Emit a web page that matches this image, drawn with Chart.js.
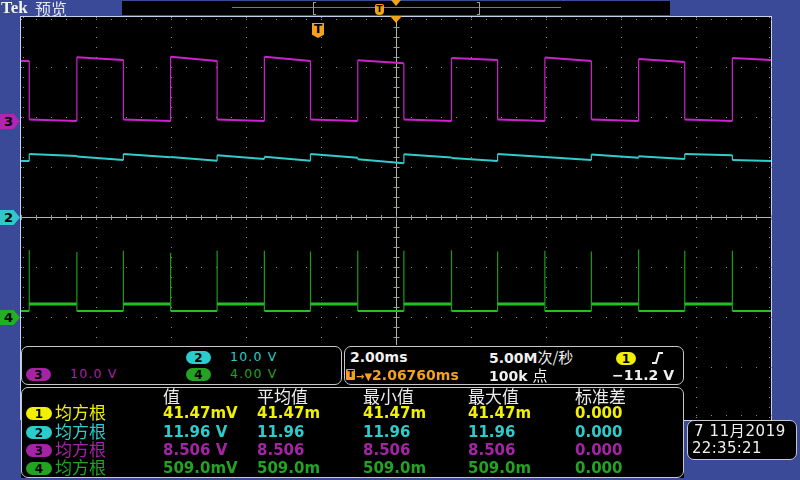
<!DOCTYPE html>
<html><head><meta charset="utf-8">
<script src="https://cdn.jsdelivr.net/npm/chart.js@4.4.0/dist/chart.umd.min.js"></script>
<style>
html,body{margin:0;padding:0;background:#3b4a98;width:800px;height:480px;overflow:hidden;}
#wrap{position:relative;width:800px;height:480px;}
canvas{position:absolute;left:0;top:0;}
.a{position:absolute;white-space:nowrap;height:18px;line-height:18px;}
.num{font-family:"DejaVu Sans",sans-serif;font-weight:bold;font-size:15px;}
.sm{font-family:"DejaVu Sans",sans-serif;font-size:12.5px;letter-spacing:1.2px;}
.cjk{font-family:"Noto Sans CJK SC",sans-serif;font-size:17px;}
.panel{position:absolute;background:#000;border:1px solid #c8c8c8;border-radius:7px;box-sizing:border-box;}
.badge{position:absolute;height:13px;line-height:13px;border-radius:7px;color:#000;font:bold 12px "DejaVu Sans",sans-serif;text-align:center;}
.mk{position:absolute;left:0;width:20px;height:15px;line-height:15px;color:#000;font:bold 13px "DejaVu Sans",sans-serif;text-indent:4px;clip-path:polygon(0 0,68% 0,100% 50%,68% 100%,0 100%);}
.tek{font-family:"Liberation Serif",serif;font-weight:bold;font-size:17px;color:#f2f2f2;}
.cn{font-family:"Noto Sans CJK SC",sans-serif;}
.dv{font-family:"DejaVu Sans",sans-serif;}
</style>
</head><body><div id="wrap">
<canvas id="c" width="800" height="480"></canvas>
<div id="ov"></div>
</div>
<script>
const timeRangeMs = [-10, 10];                       // 2.00 ms/div, 10 divisions
const divRange = [-4, 4];                            // 8 vertical divisions
const edgeTimesMs = [-9.78,-8.51,-7.27,-6.01,-4.77,-3.51,-2.28,-1.02,0.21,1.48,2.71,3.97,5.21,6.47,7.70,8.97];
// channel 3 (magenta, 10 V/div): start / end voltage of each segment between edges
const ch3StartV = [11.9,0.2,12.64,0.2,12.76,0.2,12.76,0.2,12.04,0.2,12.5,0.2,12.6,0.2,12.3,0.2,12.5];
const ch3EndV   = [11.9,-0.1,12.1,-0.1,11.9,-0.1,11.9,-0.1,11.44,-0.1,12.1,-0.1,11.9,-0.1,11.7,-0.1,12.1];
// channel 2 (cyan, 10 V/div)
const ch2StartV = [11.2,12.6,12.1,12.6,12.0,12.34,12.06,12.6,11.54,12.54,11.8,12.6,12.0,12.5,12.14,12.6,11.4];
const ch2EndV   = [11.2,12.2,11.4,11.94,11.26,11.6,11.26,11.86,10.74,11.9,11.2,12.0,11.4,11.86,11.6,12.34,11.2];
// channel 4 (green, 4 V/div): level of each segment and spike peak at each edge
const ch4LevelV = [0.48,1.04,0.48,1.04,0.48,1.04,0.48,1.04,0.48,1.04,0.48,1.04,0.48,1.04,0.48,1.04,0.48];
const ch4SpikeV = [5.36,5.2,5.3,5.15,5.3,5.3,5.25,5.3,5.3,5.35,5.25,5.3,5.25,5.4,5.3,5.3];
// channel settings
const chVoltsPerDiv = {ch2:10, ch3:10, ch4:4};
const chPositionDiv = {ch2:0, ch3:1.93, ch4:-2};
const triggerMs = -2.0676;
// readouts
const measHeaders = ['值','平均值','最小值','最大值','标准差'];
const measChannels = ['1','2','3','4'];
const measName = '均方根';
const measValues = [
  ['41.47mV','41.47m','41.47m','41.47m','0.000'],
  ['11.96 V','11.96','11.96','11.96','0.000'],
  ['8.506 V','8.506','8.506','8.506','0.000'],
  ['509.0mV','509.0m','509.0m','509.0m','0.000']
];
const chColors = {'1':'#f0f000','2':'#2ccccc','3':'#a524a5','4':'#22a422'};
const traceColors = {ch2:'#33cccc', ch3:'#cc22cc', ch4:'#22c022'};

// ---------- build traces ----------
const bounds = [timeRangeMs[0], ...edgeTimesMs, timeRangeMs[1]];
const toDiv = (ch, v) => v / chVoltsPerDiv[ch] + chPositionDiv[ch];
function segTrace(ch, st, en){
  const pts = [];
  for (let i = 0; i < st.length; i++){
    pts.push({x:bounds[i], y:toDiv(ch, st[i])});
    pts.push({x:bounds[i+1], y:toDiv(ch, en[i])});
  }
  return pts;
}
function spikeTrace(ch, lv, sp){
  const pts = [];
  for (let i = 0; i < lv.length; i++){
    pts.push({x:bounds[i], y:toDiv(ch, lv[i])});
    pts.push({x:bounds[i+1], y:toDiv(ch, lv[i])});
    if (i < sp.length) pts.push({x:bounds[i+1], y:toDiv(ch, sp[i])});
  }
  return pts;
}
const ch3Data = segTrace('ch3', ch3StartV, ch3EndV);
const ch2Data = segTrace('ch2', ch2StartV, ch2EndV);
const ch4Data = spikeTrace('ch4', ch4LevelV, ch4SpikeV);
const hiDiv = toDiv('ch4', 0.8);

const tekPlugin = {
  id:'tek',
  beforeDraw(chart){
    const {ctx, chartArea:a, scales:{x, y}} = chart;
    const bottom = y.getPixelForValue(divRange[0]) + 3;
    ctx.save();
    ctx.fillStyle = '#000';
    ctx.fillRect(a.left, a.top - 1, a.right - a.left + 1, bottom - a.top + 1);
    ctx.strokeStyle = '#c4d0f4'; ctx.lineWidth = 1;
    ctx.beginPath();
    ctx.moveTo(a.left - 0.5, a.top - 0.5); ctx.lineTo(a.right + 0.5, a.top - 0.5);
    ctx.moveTo(a.left - 0.5, a.top - 1); ctx.lineTo(a.left - 0.5, bottom);
    ctx.moveTo(a.right + 0.5, a.top - 1); ctx.lineTo(a.right + 0.5, bottom);
    ctx.moveTo(a.right + 1, bottom + 0.5); ctx.lineTo(683, bottom + 0.5);
    ctx.stroke();
    ctx.restore();
  },
  beforeDatasetsDraw(chart){
    const {ctx, chartArea:a, scales:{x, y}} = chart;
    ctx.save();
    ctx.fillStyle = '#8e8e8e';
    const dot = (px, py) => ctx.fillRect(Math.round(px), Math.round(py), 1, 1);
    for (let t = timeRangeMs[0] + 2; t < timeRangeMs[1]; t += 2){
      if (Math.abs(t) < 1e-6) continue;
      const px = x.getPixelForValue(t);
      for (let d = divRange[0]; d <= divRange[1] + 1e-6; d += 0.2) dot(px, y.getPixelForValue(d));
    }
    for (let d = divRange[0] + 1; d < divRange[1]; d += 1){
      if (d === 0) continue;
      const py = y.getPixelForValue(d);
      for (let t = timeRangeMs[0]; t <= timeRangeMs[1] + 1e-6; t += 0.4) dot(x.getPixelForValue(t), py);
    }
    for (let d = divRange[0]; d <= divRange[1] + 1e-6; d += 0.2){
      const py = y.getPixelForValue(d);
      dot(a.left + 2, py); dot(a.right - 2, py);
    }
    for (let t = timeRangeMs[0]; t <= timeRangeMs[1] + 1e-6; t += 0.4){
      const px = x.getPixelForValue(t);
      dot(px, a.top + 2); dot(px, a.bottom - 2);
    }
    const cx = Math.round(x.getPixelForValue(0)) + 0.5, cy = Math.round(y.getPixelForValue(0)) + 0.5;
    ctx.strokeStyle = '#b4b4aa'; ctx.lineWidth = 1;
    ctx.beginPath();
    ctx.moveTo(a.left, cy); ctx.lineTo(a.right, cy);
    ctx.moveTo(cx, a.top - 1); ctx.lineTo(cx, a.bottom + 3);
    ctx.stroke();
    ctx.strokeStyle = '#9a9a94';
    ctx.beginPath();
    for (let t = timeRangeMs[0]; t <= timeRangeMs[1] + 1e-6; t += 0.4){
      const px = Math.round(x.getPixelForValue(t)) + 0.5;
      ctx.moveTo(px, cy - 2.5); ctx.lineTo(px, cy + 2.5);
    }
    for (let d = divRange[0]; d <= divRange[1] + 1e-6; d += 0.2){
      const py = Math.round(y.getPixelForValue(d)) + 0.5;
      ctx.moveTo(cx - 3, py); ctx.lineTo(cx + 3, py);
    }
    ctx.stroke();
    ctx.restore();
  },
  afterDraw(chart){
    const {ctx, chartArea:a, scales:{x}} = chart;
    const px = x.getPixelForValue(0);
    ctx.save();
    ctx.fillStyle = '#f4a21c';
    ctx.beginPath();
    ctx.moveTo(px - 6, a.top - 1); ctx.lineTo(px + 6, a.top - 1); ctx.lineTo(px, a.top + 6);
    ctx.closePath(); ctx.fill();
    ctx.restore();
  }
};

const widthFor = (data, hiCheck) => ctx => {
  const p0 = data[ctx.p0DataIndex], p1 = data[ctx.p1DataIndex];
  if (p0.x === p1.x) return 1.2;
  if (hiCheck && p0.y > hiDiv && p1.y > hiDiv) return 3;
  return 2;
};

const chart = new Chart(document.getElementById('c'), {
  type:'line',
  data:{datasets:[
    {label:'CH3', data:ch3Data, borderColor:traceColors.ch3, borderWidth:2, pointRadius:0, tension:0,
     segment:{borderWidth:widthFor(ch3Data,false)}},
    {label:'CH2', data:ch2Data, borderColor:traceColors.ch2, borderWidth:2, pointRadius:0, tension:0,
     segment:{borderWidth:widthFor(ch2Data,false)}},
    {label:'CH4', data:ch4Data, borderColor:traceColors.ch4, borderWidth:2, pointRadius:0, tension:0,
     segment:{borderWidth:widthFor(ch4Data,true),
              borderColor:ctx => ch4Data[ctx.p0DataIndex].x === ch4Data[ctx.p1DataIndex].x ? '#1c9a1c' : traceColors.ch4}}
  ]},
  options:{
    responsive:false, devicePixelRatio:1, animation:false,
    layout:{padding:{left:21, top:17, right:29, bottom:63}},
    scales:{
      x:{type:'linear', min:timeRangeMs[0], max:timeRangeMs[1], display:false},
      y:{type:'linear', min:divRange[0], max:divRange[1], display:false}
    },
    plugins:{legend:{display:false}, tooltip:{enabled:false}}
  },
  plugins:[tekPlugin]
});

// ---------- overlay (real text) ----------
const ov = document.getElementById('ov');
let h = '';
const el = (cls, style, txt) => `<div class="${cls}" style="${style}">${txt}</div>`;
// top bar
h += el('a tek', 'left:1px;top:-1px;', 'Tek');
h += el('a cn', 'left:35px;top:-1px;font-size:16px;color:#e6e6ee;', '预览');
h += el('a', 'left:122px;top:1px;width:548px;height:14px;background:#000;', '');
h += el('a', 'left:232px;top:7px;width:329px;height:1px;background:#4a9c4a;', '');
h += el('a', 'left:313px;top:2px;width:3px;height:13px;border:1px solid #a0a0a0;border-right:none;box-sizing:border-box;', '');
h += el('a', 'left:477px;top:2px;width:3px;height:13px;border:1px solid #a0a0a0;border-left:none;box-sizing:border-box;', '');
h += el('a dv', 'left:375px;top:4px;width:9px;height:11px;line-height:10px;background:#f4a21c;border-radius:2px 2px 4px 4px;color:#000;font-weight:bold;font-size:9px;text-align:center;', 'T');
h += el('a', 'left:391px;top:0px;width:0;height:0;border-left:5px solid transparent;border-right:5px solid transparent;border-top:6px solid #f4a21c;', '');
// trigger position marker on graticule
const tx = chart.scales.x.getPixelForValue(triggerMs);
h += el('a dv', `left:${Math.round(tx)-6}px;top:23px;width:12px;height:15px;line-height:13px;background:#f4a21c;color:#000;font-weight:bold;font-size:12px;text-align:center;clip-path:polygon(0 0,100% 0,100% 78%,50% 100%,0 78%);`, 'T');
// channel markers
const ys = chart.scales.y;
[['3','ch3','#b026b0'],['2','ch2','#30c8c8'],['4','ch4','#22b022']].forEach(([n, ch, c]) => {
  const py = ys.getPixelForValue(chPositionDiv[ch]);
  h += el('mk', `top:${Math.round(py)-7}px;background:${c};`, n);
});
// black region behind the readouts
h += el('a', 'left:21px;top:345px;width:663px;height:133px;background:#000;', '');
// panel 1: channel scales
h += el('panel', 'left:21px;top:346px;width:321px;height:39px;', '');
const badge = (n, left, cy, w) => el('badge', `left:${left}px;top:${cy-6}px;width:${w}px;background:${chColors[n]};`, n);
h += badge('2', 186, 357, 25);
h += el('a sm', 'left:230px;top:348px;color:#2ccccc;', '10.0 V');
h += badge('3', 26, 374, 25);
h += el('a sm', 'left:70px;top:365px;color:#a524a5;', '10.0 V');
h += badge('4', 186, 374, 25);
h += el('a sm', 'left:230px;top:365px;color:#22a422;', '4.00 V');
// panel 2: timebase / trigger
h += el('panel', 'left:344px;top:346px;width:340px;height:39px;', '');
h += el('a num', 'left:350px;top:348px;font-size:14px;color:#f0f0f0;', '2.00ms');
h += el('a num', 'left:489px;top:348px;font-size:14px;color:#f0f0f0;', '5.00M<span class="cn" style="font-size:15px;font-weight:normal;">次/秒</span>');
h += badge('1', 616, 358, 20);
h += `<svg style="position:absolute;left:650px;top:350px" width="16" height="16"><path d="M2 13 L6 13 L9 3 L13 3" stroke="#f0f0f0" stroke-width="2" fill="none"/></svg>`;
h += el('a dv', 'left:346px;top:369px;width:9px;height:11px;line-height:11px;background:#f4a21c;color:#000;font-weight:bold;font-size:9px;text-align:center;border-radius:1px;', 'T');
h += el('a num', 'left:356px;top:366px;font-size:14px;color:#f4a21c;', '<span style="font-size:10px">→▼</span>2.06760ms');
h += el('a num', 'left:489px;top:366px;font-size:14px;color:#f0f0f0;', '100k <span class="cn" style="font-weight:normal;font-size:15px;">点</span>');
h += el('a num', 'left:600px;width:74px;text-align:right;top:366px;font-size:14px;color:#f0f0f0;', '−11.2 V');
// panel 3: measurements
h += el('panel', 'left:21px;top:387px;width:663px;height:91px;', '');
const colX = [163, 257, 363, 468, 575];
measHeaders.forEach((t, i) => { h += el('a cjk', `left:${colX[i]}px;top:387px;color:#ececec;`, t); });
const rowY = [413, 432, 450, 468];
measChannels.forEach((n, r) => {
  const c = chColors[n];
  h += badge(n, 26, rowY[r], 26);
  h += el('a cjk', `left:55px;top:${rowY[r]-10}px;color:${c};`, measName);
  measValues[r].forEach((v, i) => { h += el('a num', `left:${colX[i]}px;top:${rowY[r]-9}px;color:${c};`, v); });
});
// date panel
h += el('panel', 'left:687px;top:420px;width:110px;height:40px;', '');
h += el('a dv', 'left:694px;top:421px;font-size:15px;letter-spacing:0.6px;color:#f0f0f0;', '7 11<span class="cn">月</span>2019');
h += el('a dv', 'left:692px;top:439px;font-size:15px;letter-spacing:0.3px;color:#f0f0f0;', '22:35:21');
ov.innerHTML = h;
</script>
</body></html>
